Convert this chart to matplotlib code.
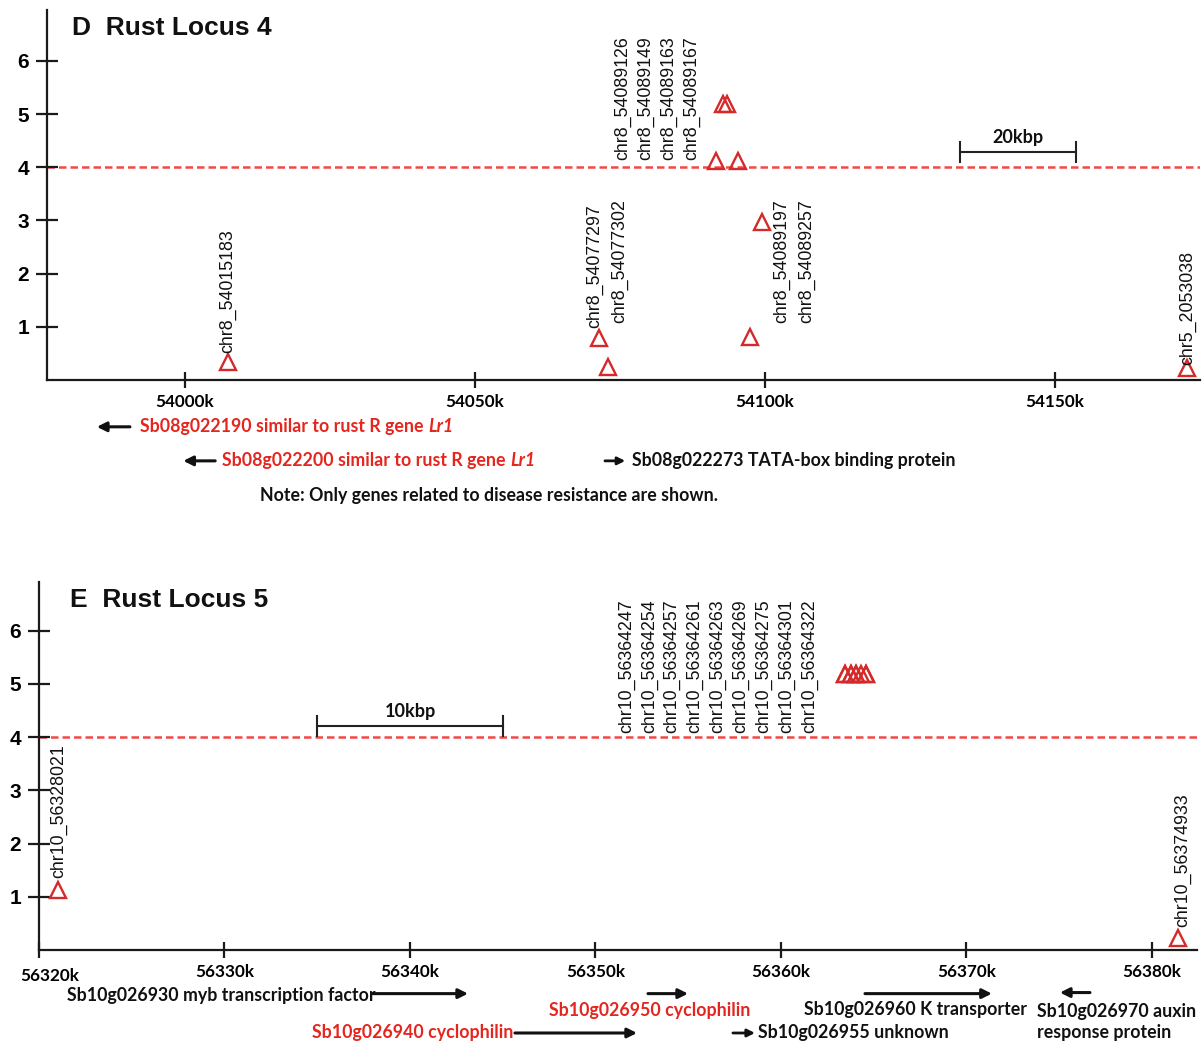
import matplotlib
matplotlib.use('Agg')
import matplotlib.pyplot as plt
from matplotlib.transforms import ScaledTranslation

# ---------------- Panel D : Rust Locus 4 (x in kbp, y = -log10 p) ----------------
d_pos = [54007.4, 54071.4, 54072.9, 54091.5, 54095.3, 54092.8, 54093.5, 54099.5, 54097.4, 54172.8]
d_val = [0.34, 0.79, 0.24, 4.11, 4.11, 5.19, 5.19, 2.97, 0.81, 0.23]
d_labels = ['chr8_54015183', 'chr8_54077297', 'chr8_54077302', 'chr8_54089126',
            'chr8_54089149', 'chr8_54089163', 'chr8_54089167', 'chr8_54089197',
            'chr8_54089257', 'chr5_2053038']
d_label_x = [54007.4, 54070.7, 54075.0, 54075.5, 54079.5, 54083.3, 54087.4, 54102.9, 54107.1, 54172.8]
d_label_y = [0.51, 0.98, 1.07, 4.14, 4.14, 4.14, 4.14, 1.07, 1.07, 0.28]
d_xticks = [54000, 54050, 54100, 54150]
d_xticklabels = ['54000k', '54050k', '54100k', '54150k']
d_scalebar = (54133.6, 54153.6, '20kbp')

# ---------------- Panel E : Rust Locus 5 ----------------
e_pos = [56321.0, 56363.45, 56363.45, 56363.77, 56363.77, 56364.04, 56364.04,
         56364.31, 56364.58, 56364.58, 56381.4]
e_val = [1.13, 5.19, 5.19, 5.19, 5.19, 5.19, 5.19, 5.19, 5.19, 5.19, 0.23]
e_labels = ['chr10_56328021', 'chr10_56364247', 'chr10_56364254', 'chr10_56364257',
            'chr10_56364261', 'chr10_56364263', 'chr10_56364269', 'chr10_56364275',
            'chr10_56364301', 'chr10_56364322', 'chr10_56374933']
e_label_x = [56321.08, 56351.70, 56352.94, 56354.12, 56355.36, 56356.60, 56357.84,
             56359.08, 56360.32, 56361.56, 56381.67]
e_label_y = [1.35, 4.08, 4.08, 4.08, 4.08, 4.08, 4.08, 4.08, 4.08, 4.08, 0.43]
e_xticks = [56320, 56330, 56340, 56350, 56360, 56370, 56380]
e_xticklabels = ['56320k', '56330k', '56340k', '56350k', '56360k', '56370k', '56380k']
e_scalebar = (56335.0, 56345.0, '10kbp')

yticks = [1, 2, 3, 4, 5, 6]
threshold = 4

RED_TXT = '#e5261f'
RED_MK = '#d42a2a'
RED_LINE = '#f24848'
GENE_FONT = 'Lato'
GENE_FS = 12.8

fig = plt.figure(figsize=(12.04, 10.43), dpi=100)
W, H = 1204, 1043


def make_axes(left, right, bottom, top):
    return fig.add_axes([left / W, 1 - bottom / H, (right - left) / W, (bottom - top) / H])


def style(ax, xticks, xticklabels):
    for s in ['top', 'right']:
        ax.spines[s].set_visible(False)
    for s in ['left', 'bottom']:
        ax.spines[s].set_linewidth(1.6)
        ax.spines[s].set_color('#1a1a1a')
    ax.set_yticks(yticks)
    ax.set_yticklabels([str(v) for v in yticks], fontfamily='Liberation Sans',
                       fontweight='bold', fontsize=15)
    ax.tick_params(axis='y', direction='inout', length=16, width=1.6, pad=5, color='#1a1a1a')
    ax.set_xticks(xticks)
    ax.set_xticklabels(xticklabels, fontfamily=GENE_FONT, fontweight='bold', fontsize=12.3)
    ax.tick_params(axis='x', direction='inout', length=12, width=1.6, pad=4, color='#1a1a1a')
    ax.set_facecolor('none')


def draw_panel(ax, pos, val, labels, lx, ly, scalebar, sb_y, sb_cap, sb_lab_y, title, title_x):
    ax.axhline(threshold, color=RED_LINE, lw=1.8, ls=(0, (3, 1.6)), zorder=1)
    ax.plot(pos, val, ls='none', marker='^', ms=11, mfc='none', mec=RED_MK, mew=1.7,
            zorder=3, clip_on=False)
    for t, x, y in zip(labels, lx, ly):
        ax.text(x, y, t, rotation=90, ha='center', va='bottom', fontsize=12.8,
                fontfamily='Liberation Sans', color='#111111')
    x0, x1, lab = scalebar
    ax.plot([x0, x1], [sb_y, sb_y], color='#222222', lw=1.5)
    ax.plot([x0, x0], [sb_y - sb_cap, sb_y + sb_cap], color='#222222', lw=1.5)
    ax.plot([x1, x1], [sb_y - sb_cap, sb_y + sb_cap], color='#222222', lw=1.5)
    ax.text((x0 + x1) / 2, sb_lab_y, lab, ha='center', va='bottom', fontsize=13,
            fontfamily=GENE_FONT, fontweight='bold', color='#111111')
    ax.text(title_x, 0.952, title, transform=ax.transAxes, ha='left', va='center',
            fontsize=19, fontweight='bold', fontfamily='Liberation Sans', color='#111111')


def arrow(ax, x_from, x_to, y, lw=2.2, ms=14):
    ax.annotate('', xy=(x_to, y), xytext=(x_from, y), xycoords='data',
                arrowprops=dict(arrowstyle='-|>', lw=lw, color='#111111',
                                mutation_scale=ms, shrinkA=0, shrinkB=0),
                annotation_clip=False)


def gtext(ax, x, y, s, color='#111111', ha='left', **kw):
    return ax.text(x, y, s, ha=ha, va='center', fontsize=GENE_FS, fontfamily=GENE_FONT,
                   fontweight='bold', color=color, clip_on=False, **kw)


def italic_after(ax, t, s, color):
    ax.annotate(s, xy=(1, 0), xycoords=t, xytext=(3.5, 0), textcoords='offset points',
                ha='left', va='bottom', fontsize=GENE_FS, fontfamily=GENE_FONT,
                fontweight='bold', fontstyle='italic', color=color, annotation_clip=False)


# ---------------- top axes ----------------
axD = make_axes(47, 1200, 380, 10)
axD.set_xlim(53976.2, 54175.0)
axD.set_ylim(0, 6.955)
style(axD, d_xticks, d_xticklabels)
draw_panel(axD, d_pos, d_val, d_labels, d_label_x, d_label_y, d_scalebar,
           4.29, 0.19, 4.4, 'D  Rust Locus 4', 0.022)

# gene annotations panel D
arrow(axD, 53990.5, 53984.8, -0.88)
t1 = gtext(axD, 53992.2, -0.88, 'Sb08g022190 similar to rust R gene', color=RED_TXT)
italic_after(axD, t1, 'Lr1', RED_TXT)
arrow(axD, 54005.2, 53999.7, -1.52)
t2 = gtext(axD, 54006.4, -1.52, 'Sb08g022200 similar to rust R gene', color=RED_TXT)
italic_after(axD, t2, 'Lr1', RED_TXT)
arrow(axD, 54072.4, 54075.9, -1.52, lw=2.0, ms=11)
gtext(axD, 54077.1, -1.52, 'Sb08g022273 TATA-box binding protein')
gtext(axD, 54052.4, -2.18, 'Note: Only genes related to disease resistance are shown.', ha='center')

# ---------------- bottom axes ----------------
axE = make_axes(39, 1197, 950, 582)
axE.set_xlim(56320.0, 56382.43)
axE.set_ylim(0, 6.917)
style(axE, e_xticks, e_xticklabels)
draw_panel(axE, e_pos, e_val, e_labels, e_label_x, e_label_y, e_scalebar,
           4.21, 0.19, 4.33, 'E  Rust Locus 5', 0.027)
# first tick label shifted right so it is not cut at the figure edge
lbl0 = axE.get_xticklabels()[0]
lbl0.set_transform(lbl0.get_transform() + ScaledTranslation(8 / 72, -3 / 72, fig.dpi_scale_trans))

# gene annotations panel E
gtext(axE, 56321.5, -0.85, 'Sb10g026930 myb transcription factor')
arrow(axE, 56338.0, 56343.13, -0.82)
gtext(axE, 56345.55, -1.56, 'Sb10g026940 cyclophilin', color=RED_TXT, ha='right')
arrow(axE, 56345.66, 56352.24, -1.56)
arrow(axE, 56352.83, 56354.99, -0.82)
gtext(axE, 56352.94, -1.13, 'Sb10g026950 cyclophilin', color=RED_TXT, ha='center')
arrow(axE, 56357.41, 56358.6, -1.56, lw=2.0, ms=11)
gtext(axE, 56358.76, -1.56, 'Sb10g026955 unknown')
arrow(axE, 56364.53, 56371.37, -0.82)
gtext(axE, 56367.25, -1.11, 'Sb10g026960 K transporter', ha='center')
arrow(axE, 56376.66, 56375.04, -0.80)
gtext(axE, 56373.8, -1.15, 'Sb10g026970 auxin')
gtext(axE, 56373.8, -1.56, 'response protein')

fig.savefig('out.png', dpi=100, facecolor='white')
